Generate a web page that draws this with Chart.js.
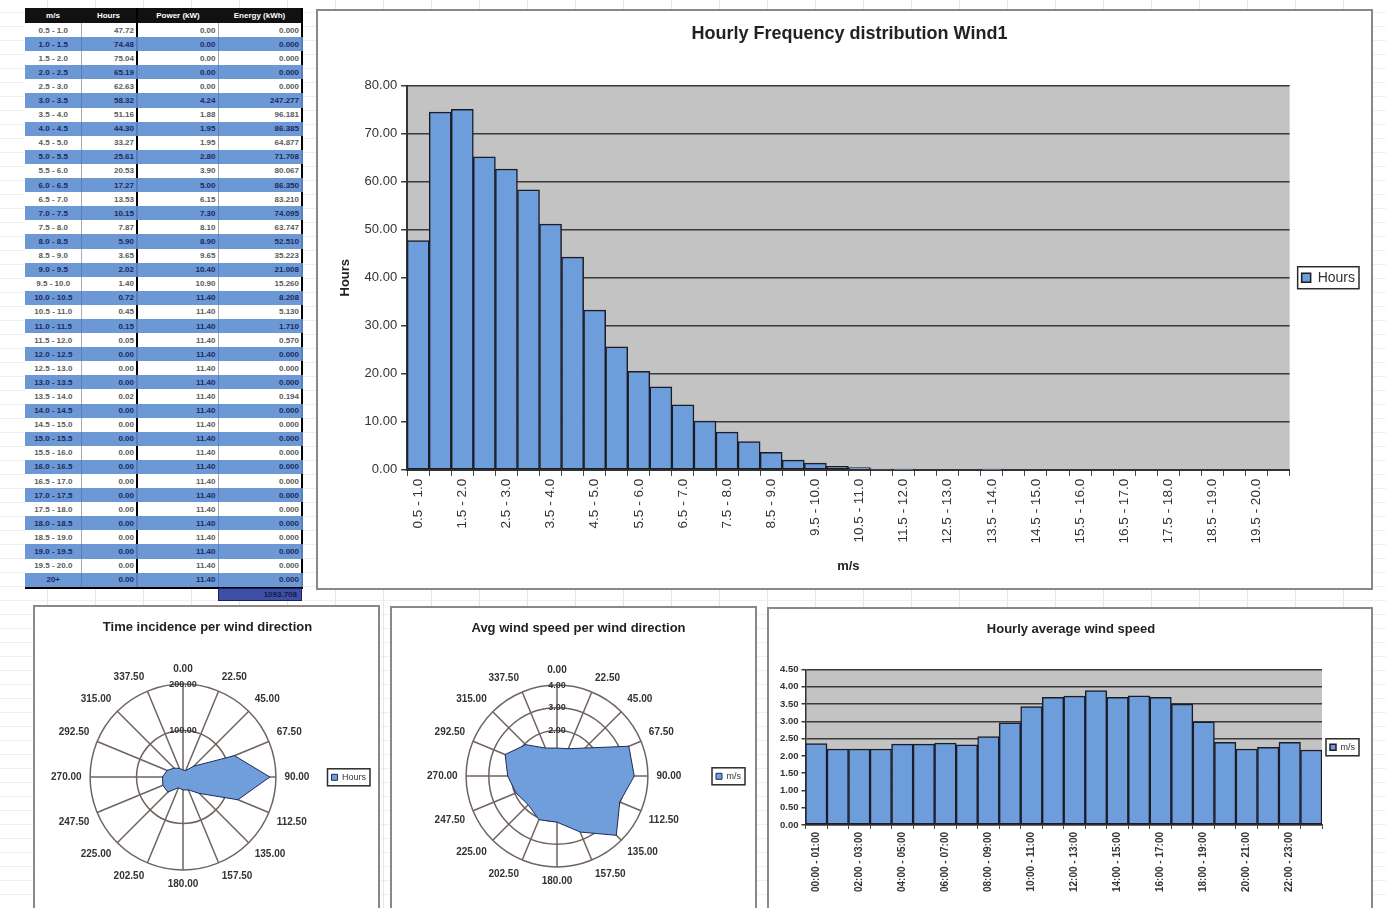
<!DOCTYPE html>
<html>
<head>
<meta charset="utf-8">
<title>Wind1 frequency distribution</title>
<script src="https://cdn.jsdelivr.net/npm/chart.js@4.4.1/dist/chart.umd.min.js"></script>
<style>
  body {
    margin: 0;
    width: 1386px;
    height: 908px;
    position: relative;
    overflow: hidden;
    font-family: "Liberation Sans", Arial, sans-serif;
    background-color: #fff;
    background-image:
      repeating-linear-gradient(90deg, transparent 0 47px, #e6e6e6 47px 48px),
      repeating-linear-gradient(0deg, transparent 0 13px, #f0f0f0 13px 14px);
  }
  .panel {
    position: absolute;
    box-sizing: border-box;
    border: 2px solid #8d8784;
    background: #fff;
    overflow: hidden;
  }
  .panel canvas { display: block; }

  /* speed bin table */
  #bins {
    position: absolute;
    left: 25px;
    top: 8px;
    border-collapse: collapse;
    table-layout: fixed;
    font-size: 8px;
    font-weight: bold;
    background: #fff;
  }
  #bins th {
    background: #111;
    color: #fff;
    height: 15px;
    padding: 0 3px;
    white-space: nowrap;
    overflow: hidden;
    text-align: center;
  }
  #bins td {
    height: 14.1px;
    padding: 0 2px 0 3px;
    text-align: right;
    white-space: nowrap;
    overflow: hidden;
    color: #5a5a5a;
    border-right: 1px solid #a9a9a9;
  }
  #bins td:first-child { text-align: center; }
  #bins tr.blue td { background: #6c98d6; color: #1c2a5c; border-right-color: #5a7fb8; }
  #bins td.thick, #bins th.thick { border-right: 2px solid #000; }
  #bins tr.last td { border-bottom: 2px solid #000; }
  #total {
    position: absolute;
    left: 218px;
    top: 588px;
    width: 84px;
    height: 13px;
    background: #3e4fa6;
    border: 1px solid #1b2255;
    box-sizing: border-box;
    color: #141c46;
    font-size: 8px;
    font-weight: bold;
    text-align: right;
    padding-right: 4px;
    line-height: 11px;
  }
</style>
</head>
<body>

<table id="bins">
  <colgroup>
    <col style="width:56px"><col style="width:56px"><col style="width:81px"><col style="width:84px">
  </colgroup>
  <thead>
    <tr><th>m/s</th><th class="thick">Hours</th><th>Power (kW)</th><th class="thick">Energy (kWh)</th></tr>
  </thead>
  <tbody id="binRows"></tbody>
</table>
<div id="total"></div>

<div class="panel" style="left:316px; top:9px; width:1057px; height:581px;">
  <canvas id="freqChart" width="1053" height="577"></canvas>
</div>
<div class="panel" style="left:33px; top:605px; width:347px; height:310px;">
  <canvas id="timeRadar" width="343" height="306"></canvas>
</div>
<div class="panel" style="left:390px; top:606px; width:367px; height:310px;">
  <canvas id="speedRadar" width="363" height="306"></canvas>
</div>
<div class="panel" style="left:767px; top:607px; width:606px; height:310px;">
  <canvas id="hourlyChart" width="602" height="306"></canvas>
</div>

<script>
// ---- wind speed bins (m/s) ----
const speedBins = [
  "0.5 - 1.0", "1.0 - 1.5", "1.5 - 2.0", "2.0 - 2.5", "2.5 - 3.0", "3.0 - 3.5", "3.5 - 4.0", "4.0 - 4.5",
  "4.5 - 5.0", "5.0 - 5.5", "5.5 - 6.0", "6.0 - 6.5", "6.5 - 7.0", "7.0 - 7.5", "7.5 - 8.0", "8.0 - 8.5",
  "8.5 - 9.0", "9.0 - 9.5", "9.5 - 10.0", "10.0 - 10.5", "10.5 - 11.0", "11.0 - 11.5", "11.5 - 12.0", "12.0 - 12.5",
  "12.5 - 13.0", "13.0 - 13.5", "13.5 - 14.0", "14.0 - 14.5", "14.5 - 15.0", "15.0 - 15.5", "15.5 - 16.0", "16.0 - 16.5",
  "16.5 - 17.0", "17.0 - 17.5", "17.5 - 18.0", "18.0 - 18.5", "18.5 - 19.0", "19.0 - 19.5", "19.5 - 20.0", "20+"
];

// hours spent in each bin
const binHours = [
  47.72, 74.48, 75.04, 65.19, 62.63, 58.32, 51.16, 44.30,
  33.27, 25.61, 20.53, 17.27, 13.53, 10.15, 7.87, 5.90,
  3.65, 2.02, 1.40, 0.72, 0.45, 0.15, 0.05, 0.00,
  0.00, 0.00, 0.017, 0.00, 0.00, 0.00, 0.00, 0.00,
  0.00, 0.00, 0.00, 0.00, 0.00, 0.00, 0.00, 0.00
];

// turbine output per bin (kW)
const binPower = [
  0.00, 0.00, 0.00, 0.00, 0.00, 4.24, 1.88, 1.95,
  1.95, 2.80, 3.90, 5.00, 6.15, 7.30, 8.10, 8.90,
  9.65, 10.40, 10.90, 11.40, 11.40, 11.40, 11.40, 11.40,
  11.40, 11.40, 11.40, 11.40, 11.40, 11.40, 11.40, 11.40,
  11.40, 11.40, 11.40, 11.40, 11.40, 11.40, 11.40, 11.40
];

// ---- wind direction sectors ----
const directions = [
  "0.00", "22.50", "45.00", "67.50", "90.00", "112.50", "135.00", "157.50",
  "180.00", "202.50", "225.00", "247.50", "270.00", "292.50", "315.00", "337.50"
];
const directionHours = [15, 15, 33, 120, 187, 128, 50, 30, 28, 25, 46, 47, 44, 37, 27, 20];
const directionSpeed = [1.23, 1.30, 1.74, 3.42, 3.40, 2.99, 3.69, 2.67, 2.03, 2.08, 1.79, 1.95, 2.17, 2.47, 1.95, 1.33];

// ---- hour of day ----
const hourSlots = [
  "00:00 - 01:00", "01:00 - 02:00", "02:00 - 03:00", "03:00 - 04:00", "04:00 - 05:00", "05:00 - 06:00",
  "06:00 - 07:00", "07:00 - 08:00", "08:00 - 09:00", "09:00 - 10:00", "10:00 - 11:00", "11:00 - 12:00",
  "12:00 - 13:00", "13:00 - 14:00", "14:00 - 15:00", "15:00 - 16:00", "16:00 - 17:00", "17:00 - 18:00",
  "18:00 - 19:00", "19:00 - 20:00", "20:00 - 21:00", "21:00 - 22:00", "22:00 - 23:00", "23:00 - 24:00"
];
const hourlySpeed = [
  2.36, 2.20, 2.20, 2.20, 2.34, 2.34, 2.37, 2.32, 2.56, 2.96, 3.43, 3.70,
  3.73, 3.89, 3.70, 3.74, 3.70, 3.50, 2.99, 2.39, 2.20, 2.25, 2.39, 2.17
];

// ==========================================
// spreadsheet block
// ==========================================
const tbody = document.getElementById("binRows");
let energyTotal = 0;
speedBins.forEach((bin, i) => {
  const energy = binHours[i] * binPower[i];
  energyTotal += energy;
  const tr = document.createElement("tr");
  if (i % 2 === 1) tr.className = "blue";
  if (i === speedBins.length - 1) tr.className += " last";
  tr.innerHTML = `
    <td>${bin}</td>
    <td class="thick">${binHours[i].toFixed(2)}</td>
    <td>${binPower[i].toFixed(2)}</td>
    <td class="thick">${energy.toFixed(3)}</td>`;
  tbody.appendChild(tr);
});
document.getElementById("total").textContent = energyTotal.toFixed(3);

// ==========================================
// shared chart bits
// ==========================================
const FONT = "'Liberation Sans', Arial, sans-serif";
const BAR_BLUE = "#6d9edb";
const BAR_EDGE = "#1b1c26";
const GRID_DARK = "#3a3a3a";
const WEB = "#6f6360";

Chart.defaults.font.family = FONT;
Chart.defaults.color = "#333";
Chart.defaults.animation = false;

// grey plot area behind the bars
const plotBackground = {
  id: "plotBackground",
  beforeDraw(chart, args, opts) {
    if (!opts.color) return;
    const { ctx, chartArea: a } = chart;
    ctx.save();
    ctx.fillStyle = opts.color;
    ctx.fillRect(a.left, a.top, a.width, a.height);
    ctx.restore();
  }
};

// thin frame round the legend, spreadsheet style
const legendFrame = {
  id: "legendFrame",
  afterDraw(chart) {
    const lg = chart.legend;
    if (!lg || !lg.legendHitBoxes || !lg.legendHitBoxes.length) return;
    const b = lg.legendHitBoxes[0];
    const ctx = chart.ctx;
    ctx.save();
    ctx.strokeStyle = "#2b2b2b";
    ctx.lineWidth = 1.5;
    ctx.strokeRect(b.left - 4, b.top - 4, b.width + 8, b.height + 8);
    ctx.restore();
  }
};

function everyOther(labels) {
  return (value, index) => (index % 2 === 0 ? labels[index] : "");
}

// ==========================================
// hourly frequency distribution
// ==========================================
new Chart(document.getElementById("freqChart"), {
  type: "bar",
  data: {
    labels: speedBins,
    datasets: [{
      label: "Hours",
      data: binHours,
      backgroundColor: BAR_BLUE,
      borderColor: BAR_EDGE,
      borderWidth: 1.5,
      borderSkipped: false,
      barPercentage: 1,
      categoryPercentage: 1
    }]
  },
  options: {
    responsive: false,
    layout: { padding: { left: 16, right: 6, top: 0, bottom: 10 } },
    plugins: {
      plotBackground: { color: "#c3c3c3" },
      title: {
        display: true,
        text: "Hourly Frequency distribution Wind1",
        color: "#222",
        font: { size: 18, weight: "bold" },
        padding: { top: 12, bottom: 41 }
      },
      legend: {
        position: "right",
        fullSize: false,
        labels: { boxWidth: 9, boxHeight: 9, padding: 12, color: "#333", font: { size: 14 } }
      },
      tooltip: { enabled: false }
    },
    scales: {
      x: {
        grid: { drawOnChartArea: false, color: "#444", tickLength: 6 },
        border: { color: "#333", width: 2 },
        ticks: {
          autoSkip: false,
          maxRotation: 90,
          minRotation: 90,
          color: "#333",
          font: { size: 13.5 },
          callback: everyOther(speedBins)
        },
        title: { display: true, text: "m/s", color: "#222", font: { size: 13, weight: "bold" }, padding: { top: 12 } }
      },
      y: {
        min: 0,
        max: 80,
        grid: { color: GRID_DARK, lineWidth: 1.5, tickLength: 6 },
        border: { color: "#333", width: 2 },
        ticks: { stepSize: 10, color: "#333", font: { size: 13 }, padding: 4, callback: v => v.toFixed(2) },
        title: { display: true, text: "Hours", color: "#222", font: { size: 13, weight: "bold" }, padding: { top: 4, bottom: 7 } }
      }
    }
  },
  plugins: [plotBackground, legendFrame]
});

// ==========================================
// direction radars
// ==========================================
function directionRadar(canvasId, title, seriesLabel, values, max, step, layoutPad) {
  return new Chart(document.getElementById(canvasId), {
    type: "radar",
    data: {
      labels: directions,
      datasets: [{
        label: seriesLabel,
        data: values,
        backgroundColor: "#6f9edb",
        borderColor: "#1d2b5a",
        borderWidth: 1,
        pointRadius: 0,
        fill: true
      }]
    },
    options: {
      responsive: false,
      layout: { padding: layoutPad },
      plugins: {
        title: {
          display: true,
          text: title,
          color: "#222",
          font: { size: 13, weight: "bold" },
          padding: { top: 13, bottom: 28 }
        },
        legend: {
          position: "right",
          fullSize: false,
          labels: { boxWidth: 6, boxHeight: 6, padding: 8, color: "#333", font: { size: 9 } }
        },
        tooltip: { enabled: false }
      },
      scales: {
        r: {
          z: 1,
          min: 0,
          max: max,
          grid: { circular: true, color: WEB, lineWidth: 1.5 },
          angleLines: { color: WEB, lineWidth: 1.5 },
          pointLabels: { color: "#333", font: { size: 10, weight: "bold" }, padding: 2 },
          ticks: {
            stepSize: step,
            showLabelBackdrop: false,
            color: "#333",
            font: { size: 9, weight: "bold" },
            callback: v => v.toFixed(2)
          }
        }
      }
    },
    plugins: [legendFrame]
  });
}

directionRadar("timeRadar", "Time incidence per wind direction", "Hours",
  directionHours, 200, 100, { left: 4, right: 2, top: 0, bottom: 22 });
directionRadar("speedRadar", "Avg wind speed per wind direction", "m/s",
  directionSpeed, 4, 1, { left: 14, right: 4, top: 0, bottom: 26 });

// ==========================================
// hourly average wind speed
// ==========================================
new Chart(document.getElementById("hourlyChart"), {
  type: "bar",
  data: {
    labels: hourSlots,
    datasets: [{
      label: "m/s",
      data: hourlySpeed,
      backgroundColor: BAR_BLUE,
      borderColor: BAR_EDGE,
      borderWidth: 1.5,
      borderSkipped: false,
      barPercentage: 1,
      categoryPercentage: 1
    }]
  },
  options: {
    responsive: false,
    layout: { padding: { left: 8, right: 6, top: 0, bottom: 20 } },
    plugins: {
      plotBackground: { color: "#c3c3c3" },
      title: {
        display: true,
        text: "Hourly average wind speed",
        color: "#222",
        font: { size: 13, weight: "bold" },
        padding: { top: 13, bottom: 32 }
      },
      legend: {
        position: "right",
        fullSize: false,
        labels: { boxWidth: 6, boxHeight: 6, padding: 8, color: "#333", font: { size: 9 } }
      },
      tooltip: { enabled: false }
    },
    scales: {
      x: {
        grid: { drawOnChartArea: false, color: "#444", tickLength: 4 },
        border: { color: "#333", width: 1.5 },
        ticks: {
          autoSkip: false,
          maxRotation: 90,
          minRotation: 90,
          color: "#333",
          font: { size: 10, weight: "bold" },
          callback: everyOther(hourSlots)
        }
      },
      y: {
        min: 0,
        max: 4.5,
        grid: { color: GRID_DARK, lineWidth: 1.5, tickLength: 4 },
        border: { color: "#333", width: 1.5 },
        ticks: { stepSize: 0.5, color: "#333", font: { size: 9.5, weight: "bold" }, padding: 3, callback: v => v.toFixed(2) }
      }
    }
  },
  plugins: [plotBackground, legendFrame]
});
</script>
</body>
</html>
